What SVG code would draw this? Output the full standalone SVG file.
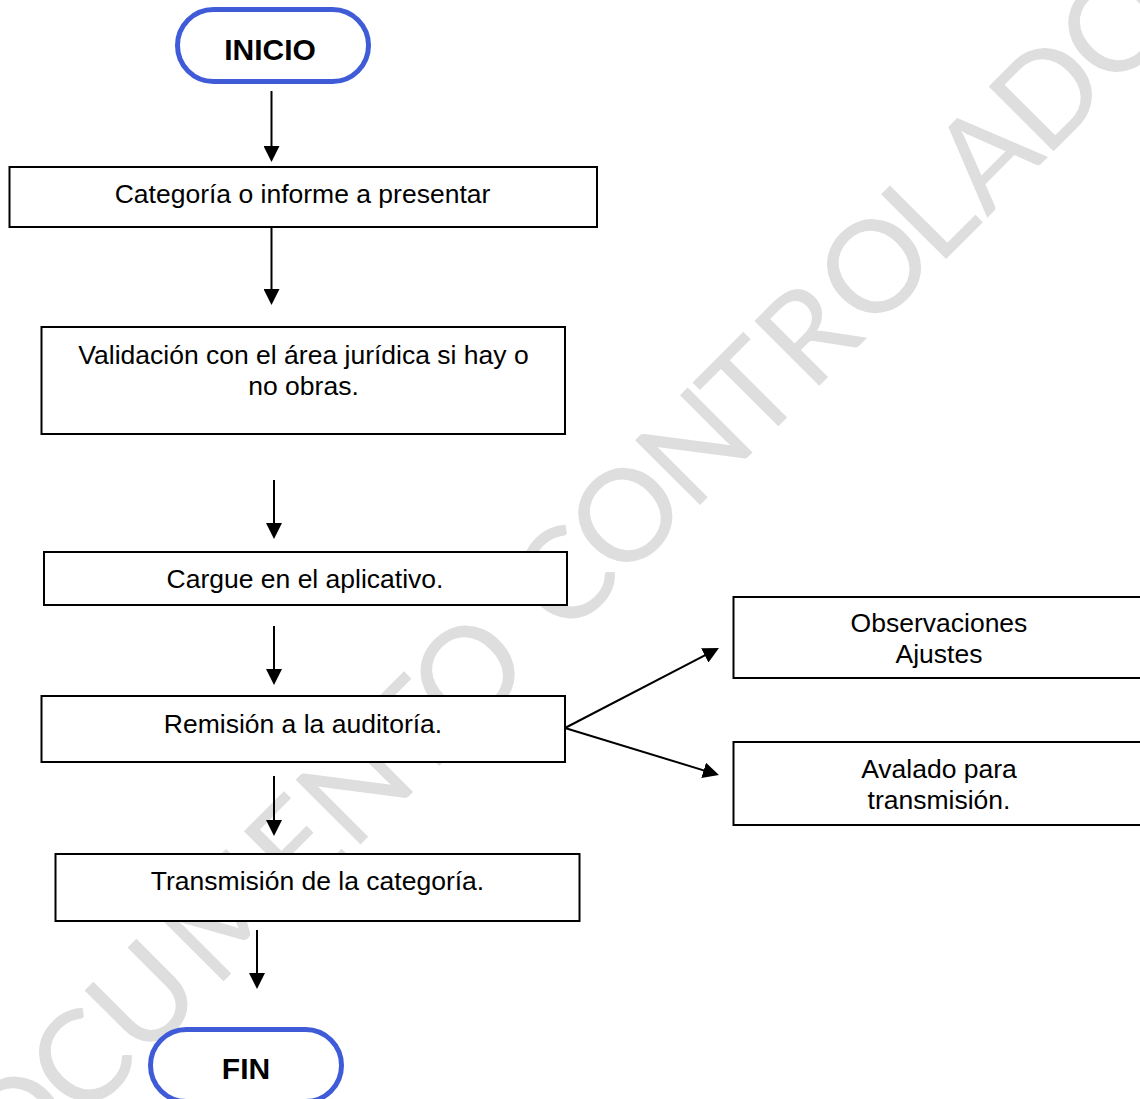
<svg xmlns="http://www.w3.org/2000/svg" width="1140" height="1099" viewBox="0 0 1140 1099">
<style>
.box{fill:#fff;stroke:#000;stroke-width:2}
.pill{fill:#fff;stroke:#3f5bd8;stroke-width:5}
.t{font-family:"Liberation Sans",Arial,sans-serif;font-size:26.5px;fill:#000;text-anchor:middle}
.tb{font-family:"Liberation Sans",Arial,sans-serif;font-size:30px;font-weight:bold;fill:#000;text-anchor:middle}
.wm{font-family:Lato,"Open Sans",sans-serif;font-size:128px;fill:#dedede;text-anchor:middle}
.c{stroke:#000;stroke-width:2;fill:none;marker-end:url(#ah)}
</style>
<defs>
<marker id="ah" viewBox="0 0 16 16" markerWidth="16" markerHeight="16" refX="6" refY="8" orient="auto" markerUnits="userSpaceOnUse">
<path d="M0,0 L16,8 L0,16 z" fill="#000"/>
</marker>
</defs>
<rect width="1140" height="1099" fill="#fff"/>
<g id="watermark">
<text class="wm" transform="rotate(-45)" x="-878 -783 -693 -604 -488 -390 -305 -225 -145 -77 -10 78 175 255 335 430 507 587 675 771" y="852">DOCUMENTO CONTROLADO</text>
</g>
<g id="connectors">
<line class="c" x1="271.5" y1="91" x2="271.5" y2="152"/>
<line class="c" x1="271.5" y1="228" x2="271.5" y2="295"/>
<line class="c" x1="274" y1="480" x2="274" y2="529"/>
<line class="c" x1="274" y1="626" x2="274" y2="675"/>
<line class="c" x1="274" y1="776" x2="274" y2="826"/>
<line class="c" x1="257" y1="930" x2="257" y2="979"/>
<line class="c" x1="565" y1="728" x2="710.1" y2="652.6"/>
<line class="c" x1="565" y1="728" x2="709.4" y2="772.1"/>
</g>
<g id="inicio">
<rect class="pill" x="177.5" y="9.5" width="191" height="72" rx="36" ry="36"/>
<text class="tb" x="270" y="60">INICIO</text>
</g>
<g id="categoria">
<rect class="box" x="9.5" y="167" width="587.5" height="60"/>
<text class="t" x="302.5" y="203">Categoría o informe a presentar</text>
</g>
<g id="validacion">
<rect class="box" x="41.5" y="327" width="523.5" height="107"/>
<text class="t" x="303.5" y="364">Validación con el área jurídica si hay o</text>
<text class="t" x="303.5" y="395">no obras.</text>
</g>
<g id="cargue">
<rect class="box" x="44" y="552" width="523" height="53"/>
<text class="t" x="305" y="588">Cargue en el aplicativo.</text>
</g>
<g id="remision">
<rect class="box" x="41.5" y="696" width="523.5" height="66"/>
<text class="t" x="303" y="733">Remisión a la auditoría.</text>
</g>
<g id="observaciones">
<rect class="box" x="733.5" y="597" width="420" height="81"/>
<text class="t" x="939" y="632">Observaciones</text>
<text class="t" x="939" y="663">Ajustes</text>
</g>
<g id="avalado">
<rect class="box" x="733.5" y="742" width="420" height="83"/>
<text class="t" x="939" y="778">Avalado para</text>
<text class="t" x="939" y="809">transmisión.</text>
</g>
<g id="transmision">
<rect class="box" x="55.5" y="854" width="524" height="67"/>
<text class="t" x="317.5" y="890">Transmisión de la categoría.</text>
</g>
<g id="fin">
<rect class="pill" x="150.5" y="1029.5" width="191" height="72" rx="36" ry="36"/>
<text class="tb" x="246" y="1079">FIN</text>
</g>
</svg>
